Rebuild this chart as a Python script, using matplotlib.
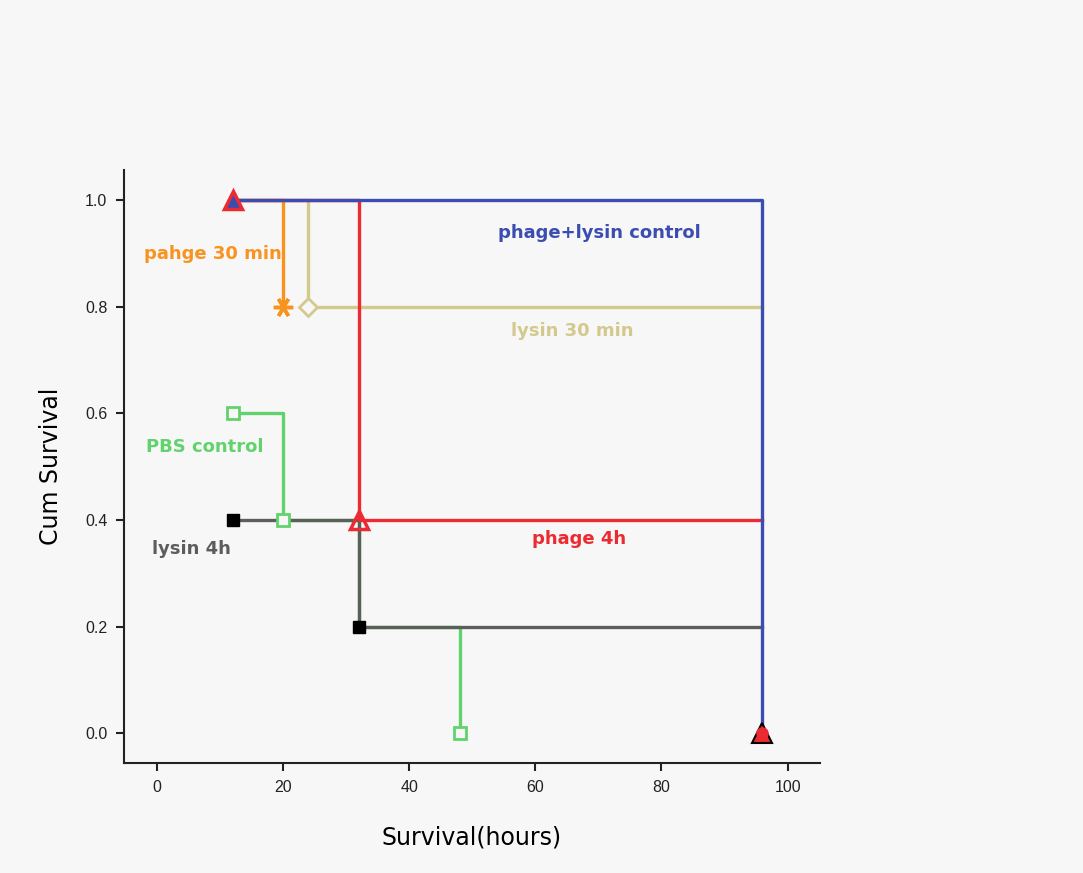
import matplotlib
matplotlib.use("Agg")
import matplotlib.pyplot as plt

plt.rcParams['font.family'] = ['Liberation Sans', 'DejaVu Sans']

# Data: step curves (hours, cumulative survival)
blue_t = [12, 96, 96]
blue_s = [1.0, 1.0, 0.0]
orange_t = [12, 20, 20, 24]
orange_s = [1.0, 1.0, 0.8, 0.8]
tan_t = [12, 24, 24, 96]
tan_s = [1.0, 1.0, 0.8, 0.8]
red_t = [12, 32, 32, 96]
red_s = [1.0, 1.0, 0.4, 0.4]
green_t = [12, 20, 20, 32, 32, 48, 48]
green_s = [0.6, 0.6, 0.4, 0.4, 0.2, 0.2, 0.0]
gray_t = [12, 32, 32, 96]
gray_s = [0.4, 0.4, 0.2, 0.2]

labels = ["phage+lysin control", "pahge 30 min", "lysin 30 min",
          "PBS control", "phage 4h", "lysin 4h"]
label_x = [70.2, 8.9, 65.8, 7.6, 66.9, 5.5]
label_y = [0.938, 0.899, 0.754, 0.537, 0.364, 0.345]

xticks = [0, 20, 40, 60, 80, 100]
yticks = [0.0, 0.2, 0.4, 0.6, 0.8, 1.0]

BLUE = '#3b4db0'
ORANGE = '#f7931e'
TAN = '#d3c98c'
RED = '#ec2a32'
GREEN = '#62d26c'
GRAY = '#5c5e5c'
BG = '#f7f7f7'

fig = plt.figure(figsize=(10.83, 8.73), dpi=100, facecolor=BG)
ax = fig.add_axes([0.1145, 0.126, 0.6425, 0.679])
ax.set_facecolor(BG)

lw = 2.4
ax.plot(green_t, green_s, color=GREEN, lw=lw, zorder=2)
ax.plot(gray_t, gray_s, color=GRAY, lw=lw, zorder=3)
ax.plot(tan_t, tan_s, color=TAN, lw=lw, zorder=2)
ax.plot(orange_t[:3], orange_s[:3], color=ORANGE, lw=lw, zorder=3)
ax.plot(red_t, red_s, color=RED, lw=lw, zorder=4)
ax.plot(blue_t, blue_s, color=BLUE, lw=lw, zorder=5)

# markers
ms = 9
ax.plot([12], [1.0], marker='^', ms=13, mfc=BLUE, mec=RED, mew=2.5, ls='none', zorder=7)
ax.plot([orange_t[2]], [orange_s[2]], marker=(6, 2, 90), ms=14, mec=ORANGE, mew=2.5, ls='none', zorder=6)
ax.plot([tan_t[2]], [tan_s[2]], marker='D', ms=9, mfc=BG, mec=TAN, mew=2, ls='none', zorder=6)
ax.plot([red_t[2]], [red_s[2]], marker='^', ms=13, mfc='none', mec=RED, mew=2.5, ls='none', zorder=7)
ax.plot([green_t[0], green_t[2], green_t[6]], [green_s[0], green_s[2], green_s[6]],
        marker='s', ms=ms, mfc=BG, mec=GREEN, mew=2, ls='none', zorder=6)
ax.plot([gray_t[0], gray_t[2]], [gray_s[0], gray_s[2]], marker='s', ms=ms,
        mfc='black', mec='black', ls='none', zorder=6)
ax.plot([blue_t[2]], [blue_s[2]], marker='^', ms=14, mfc=RED, mec='black', mew=1.5, ls='none', zorder=7)
ax.plot([blue_t[2]], [blue_s[2]], marker='o', ms=8, mfc=RED, mec=RED, ls='none', zorder=8)

colors = [BLUE, ORANGE, TAN, GREEN, RED, GRAY]
for txt, x, y, c in zip(labels, label_x, label_y, colors):
    ax.text(x, y, txt, color=c, fontsize=13, fontweight='bold', family='DejaVu Sans',
            ha='center', va='center', zorder=9)

ax.set_xlim(-5.2, 105.1)
ax.set_ylim(-0.056, 1.056)
ax.set_xticks(xticks)
ax.set_xticklabels([str(v) for v in xticks])
ax.set_yticks(yticks)
ax.set_yticklabels([f"{v:.1f}" for v in yticks])
ax.tick_params(direction='out', length=6, width=1.5, labelsize=11.5, colors='#222222', pad=6)
for s in ['top', 'right']:
    ax.spines[s].set_visible(False)
for s in ['left', 'bottom']:
    ax.spines[s].set_linewidth(1.5)
    ax.spines[s].set_color('#222222')

ax.set_xlabel('Survival(hours)', fontsize=17, family='DejaVu Sans', labelpad=22)
ax.set_ylabel('Cum Survival', fontsize=17, family='DejaVu Sans', labelpad=16)

fig.savefig('out.png', dpi=100, facecolor=BG)
